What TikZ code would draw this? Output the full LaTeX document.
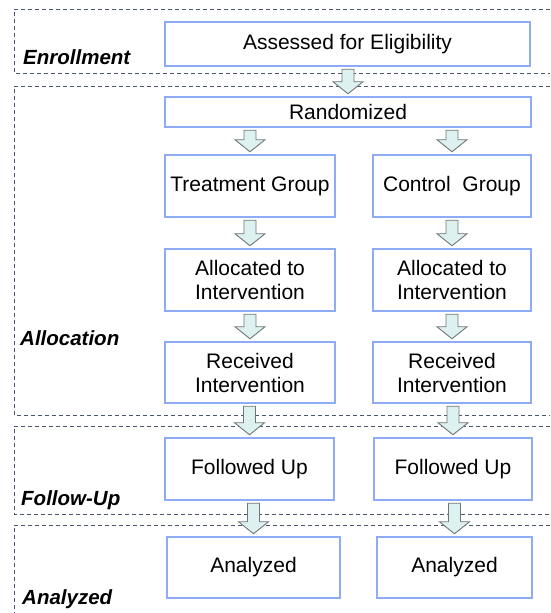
\documentclass[tikz,border=0pt]{standalone}
\usepackage{fontspec}
\setmainfont{Liberation Sans}
\usepackage{tikz}
\usetikzlibrary{calc}

\definecolor{BoxBlue}{HTML}{8EABF5}
\definecolor{ArrowFill}{HTML}{DDF1F1}
\definecolor{ArrowLine}{HTML}{6E7676}
\definecolor{StageLine}{HTML}{4B5670}

\tikzset{
  stepbox/.style={draw=BoxBlue, line width=2.5pt, fill=white, inner sep=0pt, align=center, font=\fontsize{21}{24}\selectfont},
  stage/.style={draw=StageLine, line width=0.9pt, dash pattern=on 4pt off 3pt},
  stagename/.style={anchor=base west, inner sep=0pt, font=\fontsize{20.5}{24}\selectfont\bfseries\itshape},
  flowarrow/.style={draw=ArrowLine, fill=ArrowFill, line width=0.9pt, line join=miter}
}

% block arrow from the bottom of one box down to the top of the next
\newcommand{\flowto}[2]{%
  \draw[flowarrow] let \p1=($(#1.south)+(0,-2pt)$), \p2=($(#2.north)+(0,2pt)$) in
    (\x2-6pt,\y1) -- (\x2+6pt,\y1) -- (\x2+6pt,\y2+12pt) -- (\x2+15pt,\y2+12pt)
    -- (\x2,\y2) -- (\x2-15pt,\y2+12pt) -- (\x2-6pt,\y2+12pt) -- cycle;}

\begin{document}
\begin{tikzpicture}[x=1pt, y=-1pt]
\useasboundingbox (0,0) rectangle (550,613);

% Stages
\draw[stage] (550,9) -| (14,73) -- (550,73);
\draw[stage] (550,86) -| (14,415) -- (550,415);
\draw[stage] (550,426) -| (14,514) -- (550,514);
\draw[stage] (550,525) -| (14,613);
\node[stagename] (enrol) at (23,64) {Enrollment};
\node[stagename] (alloc) at (20,345) {Allocation};
\node[stagename] (follow) at (21,505) {Follow-Up};
\node[stagename] (analys) at (22,604) {Analyzed};

% Boxes
\node[stepbox, minimum width=365pt, minimum height=44pt] (assess) at (347.5,44) {Assessed for Eligibility};
\node[stepbox, minimum width=366pt, minimum height=30pt] (random) at (348,112) {Randomized};
\node[stepbox, minimum width=170pt, minimum height=62pt] (treat) at (250,186) {Treatment Group};
\node[stepbox, minimum width=158pt, minimum height=62pt] (ctrl) at (452,186) {Control~ Group};
\node[stepbox, minimum width=170pt, minimum height=62pt] (allocT) at (250,280) {Allocated to\\Intervention};
\node[stepbox, minimum width=158pt, minimum height=62pt] (allocC) at (452,280) {Allocated to\\Intervention};
\node[stepbox, minimum width=170pt, minimum height=61pt] (recT) at (250,372.5) {Received\\Intervention};
\node[stepbox, minimum width=158pt, minimum height=61pt] (recC) at (452,372.5) {Received\\Intervention};
\node[stepbox, minimum width=169pt, minimum height=62pt] (folT) at (249.5,469) {Followed Up};
\node[stepbox, minimum width=158pt, minimum height=62pt] (folC) at (453,469) {Followed Up};
\node[stepbox, minimum width=173pt, minimum height=61pt] (anaT) at (253.5,567.5) {Analyzed};
\node[stepbox, minimum width=155pt, minimum height=61pt] (anaC) at (454.5,567.5) {Analyzed};

% Connectors
\flowto{assess}{random}
\flowto{random}{treat}
\flowto{random}{ctrl}
\flowto{treat}{allocT}
\flowto{ctrl}{allocC}
\flowto{allocT}{recT}
\flowto{allocC}{recC}
\flowto{recT}{folT}
\flowto{recC}{folC}
\flowto{folT}{anaT}
\flowto{folC}{anaC}
\end{tikzpicture}
\end{document}
